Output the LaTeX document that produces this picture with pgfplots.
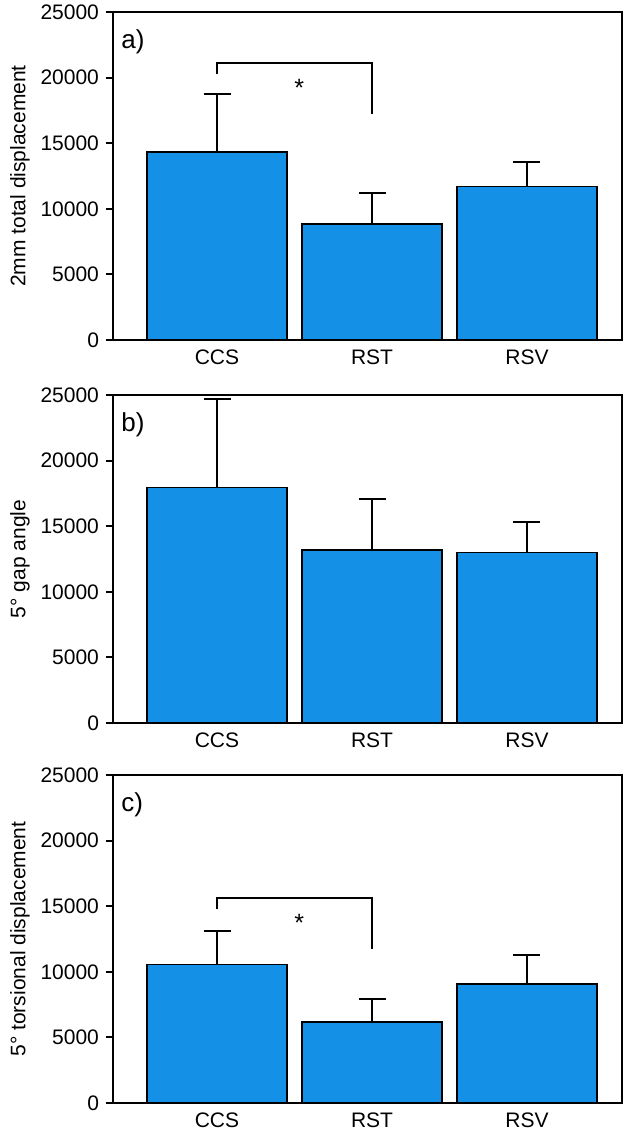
\documentclass[border=0pt]{standalone}
\usepackage{fontspec}
\setmainfont{Liberation Sans}
\usepackage{pgfplots}
\pgfplotsset{compat=1.18}
\definecolor{barblue}{RGB}{20,144,230}
\pgfplotsset{
  panel/.style={
    scale only axis, width=254.5pt, height=164pt,
    xmin=-0.671, xmax=2.613, ymin=0, ymax=25000,
    xtick={0,1,2}, xticklabels={CCS,RST,RSV},
    ytick={0,5000,10000,15000,20000,25000},
    scaled y ticks=false,
    /pgf/number format/assume math mode=true,
    /pgf/number format/1000 sep={},
    tick label style={font=\fontsize{10.5}{12}\selectfont},
    xticklabel style={yshift=2.2pt},
    label style={font=\fontsize{10.5}{12}\selectfont},
    axis line style={line width=1.1pt},
    x tick style={draw=none},
    ytick pos=left, tick align=outside, major tick length=3.5pt,
    y tick style={line width=1pt, black},
    ylabel style={at={(axis description cs:-0.183,0.5)}, anchor=center},
    clip=false,
  },
  bars/.style={ybar, bar width=70pt, bar shift=0pt, fill=barblue, draw=black, line width=0.9pt,
    error bars/.cd, y dir=plus, y explicit,
    error bar style={line width=1pt, black},
    error mark options={rotate=90, line width=1pt, mark size=6.75pt, black}},
  brk/.style={sharp plot, no marks, black, line width=1pt, forget plot},
}
\begin{document}
\begin{tikzpicture}
% panel a
\begin{axis}[panel, name=pa, at={(0,0)}, anchor=north west, ylabel={2mm total displacement}]
\addplot[bars] coordinates {(0,14300) +- (0,4450) (1,8850) +- (0,2350) (2,11700) +- (0,1850)};
\addplot[brk] coordinates {(0,20250) (0,21150) (1,21150) (1,17200)};
\node[font=\fontsize{12.5}{14}\selectfont] at (axis cs:0.53,19250) {*};
\node[anchor=west, font=\fontsize{13}{15}\selectfont] at ([xshift=0.7pt,yshift=-15pt]rel axis cs:0,1) {a)};
\end{axis}
% panel b
\begin{axis}[panel, name=pb, at={(0,-191.5pt)}, anchor=north west, ylabel={5° gap angle}]
\addplot[bars] coordinates {(0,17950) +- (0,6750) (1,13200) +- (0,3900) (2,13000) +- (0,2300)};
\node[anchor=west, font=\fontsize{13}{15}\selectfont] at ([xshift=0.7pt,yshift=-15pt]rel axis cs:0,1) {b)};
\end{axis}
% panel c
\begin{axis}[panel, name=pc, at={(0,-381.5pt)}, anchor=north west, ylabel={5° torsional displacement}]
\addplot[bars] coordinates {(0,10550) +- (0,2550) (1,6200) +- (0,1700) (2,9100) +- (0,2150)};
\addplot[brk] coordinates {(0,14750) (0,15650) (1,15650) (1,11750)};
\node[font=\fontsize{12.5}{14}\selectfont] at (axis cs:0.53,13700) {*};
\node[anchor=west, font=\fontsize{13}{15}\selectfont] at ([xshift=0.7pt,yshift=-15pt]rel axis cs:0,1) {c)};
\end{axis}
\pgfresetboundingbox
\path ([xshift=-56.5pt,yshift=6pt]pa.north west) rectangle ([xshift=256pt,yshift=-559pt]pa.north west);
\end{tikzpicture}
\end{document}
